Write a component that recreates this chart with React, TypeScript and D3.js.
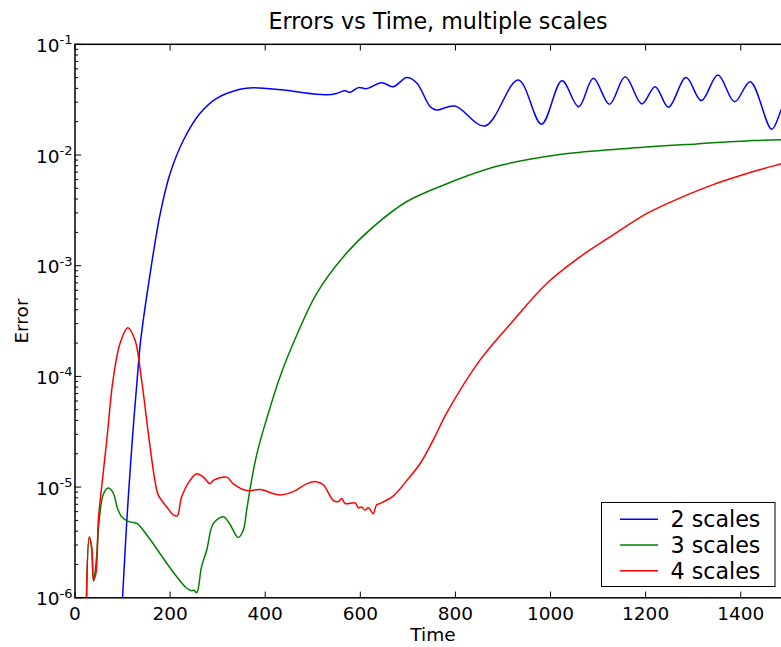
import * as d3 from 'd3'

// time stamps and errors, one pair of arrays per series
const time2 = [98, 100, 109, 120, 133, 138, 158, 179, 200, 228, 263, 298, 347, 375, 438, 508, 530, 550, 568, 578, 596, 613, 645, 669, 698, 719, 747, 760, 799, 862, 932, 981, 1024, 1059, 1090, 1124, 1157, 1192, 1220, 1248, 1285, 1317, 1352, 1387, 1420, 1465, 1485, 1500]
const err2 = [7e-7, 1e-6, 5e-6, 2.5e-5, 1.23e-4, 2.1e-4, 8.5e-4, 2.92e-3, 6.8e-3, 1.36e-2, 2.38e-2, 3.25e-2, 3.93e-2, 4.06e-2, 3.86e-2, 3.53e-2, 3.5e-2, 3.6e-2, 3.8e-2, 3.68e-2, 4.06e-2, 3.98e-2, 4.5e-2, 4.14e-2, 5.0e-2, 4.45e-2, 2.73e-2, 2.55e-2, 2.77e-2, 1.83e-2, 4.76e-2, 1.9e-2, 4.69e-2, 2.73e-2, 4.93e-2, 2.87e-2, 5.09e-2, 2.89e-2, 4.14e-2, 2.7e-2, 5.0e-2, 3.1e-2, 5.28e-2, 3.03e-2, 4.59e-2, 1.71e-2, 2.55e-2, 3.5e-2]

const time3 = [24, 30, 35, 39, 44, 52, 60, 70, 80, 90, 98, 112, 130, 155, 179, 205, 235, 245, 250, 256, 266, 277, 291, 312, 326, 343, 354, 361, 372, 383, 396, 431, 466, 508, 564, 627, 698, 782, 887, 1027, 1167, 1307, 1425, 1500]
const err3 = [8.9e-7, 3.55e-6, 2.82e-6, 1.41e-6, 2.0e-6, 5.6e-6, 8.7e-6, 9.8e-6, 8.9e-6, 6.3e-6, 5.4e-6, 4.9e-6, 4.7e-6, 3.5e-6, 2.5e-6, 1.74e-6, 1.22e-6, 1.16e-6, 1.17e-6, 1.11e-6, 1.9e-6, 2.7e-6, 4.7e-6, 5.4e-6, 4.6e-6, 3.5e-6, 4.1e-6, 6.2e-6, 1.2e-5, 2.04e-5, 3.27e-5, 9.9e-5, 2.34e-4, 5.6e-4, 1.2e-3, 2.24e-3, 3.8e-3, 5.5e-3, 7.9e-3, 1.02e-2, 1.15e-2, 1.26e-2, 1.35e-2, 1.38e-2]

const time4 = [24, 30, 35, 39, 44, 49, 56, 67, 80, 95, 111, 126, 140, 154, 168, 175, 193, 207, 215, 224, 242, 256, 270, 284, 291, 319, 333, 361, 389, 431, 459, 487, 507, 522, 543, 554, 561, 568, 589, 596, 603, 610, 617, 627, 634, 641, 669, 698, 727, 754, 782, 852, 922, 992, 1062, 1132, 1202, 1273, 1342, 1413, 1483, 1500]
const err4 = [8.9e-7, 3.55e-6, 2.9e-6, 1.45e-6, 1.66e-6, 5.0e-6, 1.0e-5, 2.7e-5, 9.3e-5, 2.0e-4, 2.75e-4, 2.14e-4, 9.3e-5, 3.1e-5, 1.15e-5, 8.5e-6, 6.6e-6, 5.6e-6, 5.5e-6, 8.1e-6, 1.15e-5, 1.32e-5, 1.23e-5, 1.07e-5, 1.15e-5, 1.23e-5, 1.07e-5, 9.3e-6, 9.5e-6, 8.5e-6, 9.1e-6, 1.07e-5, 1.12e-5, 1.05e-5, 7.6e-6, 7.4e-6, 7.9e-6, 7.1e-6, 7.2e-6, 6.5e-6, 6.6e-6, 6.2e-6, 6.5e-6, 5.75e-6, 6.9e-6, 7.1e-6, 8.3e-6, 1.15e-5, 1.66e-5, 2.7e-5, 4.7e-5, 1.41e-4, 3.2e-4, 6.9e-4, 1.2e-3, 1.9e-3, 2.95e-3, 4.1e-3, 5.4e-3, 6.8e-3, 8.3e-3, 8.7e-3]

const seriesNames = ['2 scales', '3 scales', '4 scales']
const seriesColors = ['#0000ff', '#008000', '#ff0000']
const xTicks = [0, 200, 400, 600, 800, 1000, 1200, 1400]
const yExponents = [-1, -2, -3, -4, -5, -6]

export default function App() {
  const width = 781
  const height = 647
  const left = 75
  const top = 44.3
  const bottom = 597.8
  const right = 788.3
  const font = 'DejaVu Sans, sans-serif'
  const tickFont = 18.5

  const x = d3.scaleLinear().domain([0, 1500]).range([left, right])
  const y = d3.scaleLog().domain([1e-6, 1e-1]).range([bottom, top])

  const line = d3.line<[number, number]>()
    .x(d => x(d[0]))
    .y(d => y(d[1]))
    .curve(d3.curveCatmullRom.alpha(0.5))

  const series = [
    d3.zip(time2, err2) as [number, number][],
    d3.zip(time3, err3) as [number, number][],
    d3.zip(time4, err4) as [number, number][],
  ]

  // minor log ticks 2..9 in every decade
  const minor: number[] = []
  for (let e = -6; e < -1; e++) {
    for (let m = 2; m <= 9; m++) minor.push(m * Math.pow(10, e))
  }

  return (
    <svg width={width} height={height} style={{ position: 'absolute', left: 0, top: 0, background: '#fff' }}
      fontFamily={font}>
      <defs>
        <clipPath id="plot">
          <rect x={left} y={top} width={right - left} height={bottom - top} />
        </clipPath>
      </defs>

      <text x={438} y={29} fontSize={22.2} textAnchor="middle">Errors vs Time, multiple scales</text>

      <g clipPath="url(#plot)" fill="none" strokeWidth={1.5} strokeLinejoin="round">
        {series.map((s, i) => (
          <path key={i} d={line(s) || ''} stroke={seriesColors[i]} />
        ))}
      </g>

      {/* frame */}
      <rect x={left} y={top} width={right - left} height={bottom - top} fill="none" stroke="#000" strokeWidth={1.5} />

      {/* x ticks */}
      {xTicks.map(t => (
        <g key={t}>
          <line x1={x(t)} x2={x(t)} y1={bottom} y2={bottom - 6.2} stroke="#000" strokeWidth={1} />
          <line x1={x(t)} x2={x(t)} y1={top} y2={top + 6.2} stroke="#000" strokeWidth={1} />
          <text x={x(t)} y={620} fontSize={tickFont} textAnchor="middle">{t}</text>
        </g>
      ))}

      {/* y ticks */}
      {yExponents.map(e => {
        const yy = y(Math.pow(10, e))
        return (
          <g key={e}>
            <line x1={left} x2={left + 6.2} y1={yy} y2={yy} stroke="#000" strokeWidth={1} />
            <text x={72.5} y={yy + 7.5} fontSize={tickFont} textAnchor="end">
              10<tspan dy={-7.5} fontSize={13}>{'-' + Math.abs(e)}</tspan>
            </text>
          </g>
        )
      })}
      {minor.map((v, i) => (
        <line key={i} x1={left} x2={left + 3.1} y1={y(v)} y2={y(v)} stroke="#000" strokeWidth={1} />
      ))}

      <text x={433} y={641} fontSize={tickFont} textAnchor="middle">Time</text>
      <text transform={`translate(27.5,${(top + bottom) / 2}) rotate(-90)`} fontSize={tickFont} textAnchor="middle">Error</text>

      {/* legend */}
      <rect x={601.5} y={502.5} width={173.5} height={84} fill="#fff" stroke="#000" strokeWidth={1} />
      {seriesNames.map((n, i) => {
        const cy = 519.3 + i * 25.7
        return (
          <g key={n}>
            <line x1={620} x2={658} y1={cy} y2={cy} stroke={seriesColors[i]} strokeWidth={1.5} />
            <text x={670.5} y={cy + 8} fontSize={22.2}>{n}</text>
          </g>
        )
      })}
    </svg>
  )
}
